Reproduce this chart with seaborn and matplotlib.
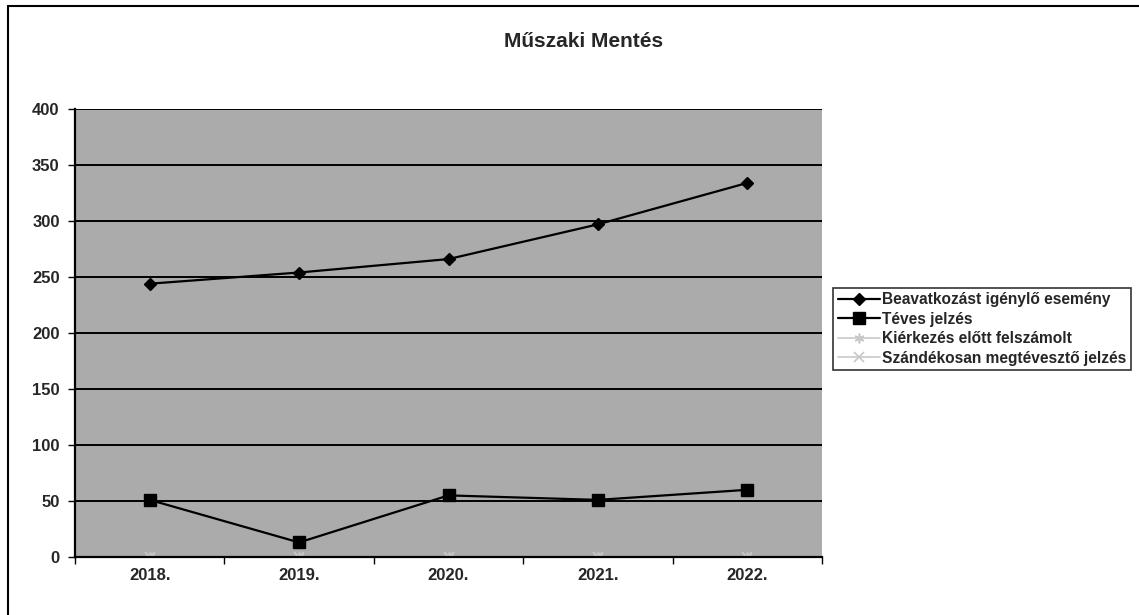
import matplotlib
matplotlib.use("Agg")
import matplotlib.pyplot as plt
from matplotlib.lines import Line2D
import seaborn as sns
import pandas as pd

years = ["2018.", "2019.", "2020.", "2021.", "2022."]
beavatkozas = [244, 254, 266, 297, 334]
teves = [51, 13, 55, 51, 60]
kierkezes = [0, 0, 0, 0, 0]
szandekos = [0, 0, 0, 0, 0]
series_names = ["Beavatkozást igénylő esemény", "Téves jelzés",
                "Kiérkezés előtt felszámolt", "Szándékosan megtévesztő jelzés"]
y_ticks = [0, 50, 100, 150, 200, 250, 300, 350, 400]
title = "Műszaki Mentés"

sns.set_theme(style="white")
plt.rcParams['font.family'] = ['Liberation Sans', 'DejaVu Sans']

rows = []
for name, vals in zip(series_names, [beavatkozas, teves, kierkezes, szandekos]):
    for i, (y, v) in enumerate(zip(years, vals)):
        rows.append({"pos": i, "year": y, "value": v, "series": name})
df = pd.DataFrame(rows)

fig = plt.figure(figsize=(11.39, 6.15), dpi=100)
fig.patch.set_facecolor("white")
ax = fig.add_axes([0.0658, 0.0943, 0.656, 0.7285])
ax.set_facecolor("#ababab")

palette = {series_names[0]: "black", series_names[1]: "black",
           series_names[2]: "#c8c8c8", series_names[3]: "#c8c8c8"}
markers = {series_names[0]: "D", series_names[1]: "s",
           series_names[2]: (6, 2, 0), series_names[3]: "x"}
sizes_m = {series_names[0]: 6, series_names[1]: 8,
           series_names[2]: 7, series_names[3]: 7}

for name in series_names[::-1]:
    sub = df[df["series"] == name]
    black = palette[name] == "black"
    sns.lineplot(data=sub, x="pos", y="value", ax=ax, color=palette[name],
                 marker=markers[name], markersize=sizes_m[name],
                 markeredgecolor=palette[name], markeredgewidth=1.0 if black else 1.2,
                 linewidth=1.6 if black else 1.2,
                 label=name, zorder=3 if black else 1.5,
                 clip_on=not black)

ax.set_xlim(-0.5, 4.5)
ax.set_ylim(0, 400)
ax.set_yticks(y_ticks)
ax.set_yticklabels([str(t) for t in y_ticks], fontsize=12, fontweight="bold")
ax.set_xticks(range(len(years)))
ax.set_xticklabels(years, fontsize=12, fontweight="bold")
ax.set_xticks([i - 0.5 for i in range(len(years) + 1)], minor=True)
ax.tick_params(axis="x", which="major", length=0, pad=8)
ax.tick_params(axis="x", which="minor", length=5, width=1, color="black",
               direction="out", bottom=True)
ax.tick_params(axis="y", which="major", length=5, width=1, color="black",
               direction="out", left=True, pad=6)
ax.yaxis.grid(True, color="black", linewidth=1.4)
ax.set_axisbelow(True)
for s in ["top", "right"]:
    ax.spines[s].set_visible(False)
for s in ["left", "bottom"]:
    ax.spines[s].set_color("black")
    ax.spines[s].set_linewidth(1.6)
    ax.spines[s].set_zorder(2)
ax.set_xlabel("")
ax.set_ylabel("")

handles, labels = ax.get_legend_handles_labels()
order = [labels.index(n) for n in series_names]
leg = ax.legend([handles[i] for i in order], [labels[i] for i in order],
                loc="upper left", bbox_to_anchor=(0.7313, 0.532),
                bbox_transform=fig.transFigure, frameon=True, fancybox=False,
                edgecolor="black", prop={"size": 11.2, "weight": "bold"},
                borderpad=0.3, labelspacing=0.28, handlelength=2.7,
                handletextpad=0.15, borderaxespad=0)
leg.get_frame().set_linewidth(1.2)

fig.text(0.512, 0.933, title, ha="center", va="center",
         fontsize=15, fontweight="bold")

fig.add_artist(Line2D([0.007, 1.0], [0.99, 0.99], transform=fig.transFigure,
                      color="black", linewidth=1.5))
fig.add_artist(Line2D([0.007, 0.007], [0.0, 0.99], transform=fig.transFigure,
                      color="black", linewidth=1.5))

fig.savefig("out.png", dpi=100, facecolor="white")
